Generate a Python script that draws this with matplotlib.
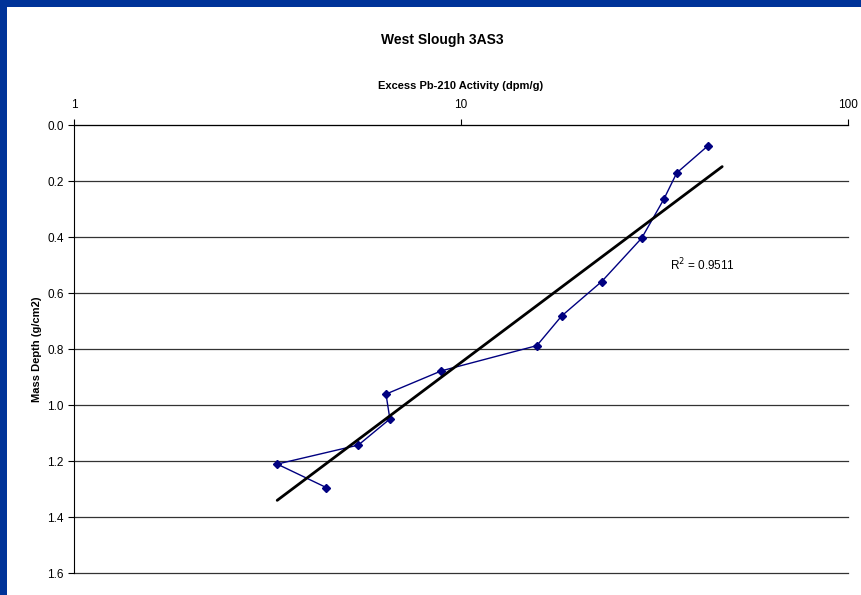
import numpy as np
import matplotlib
matplotlib.use("Agg")
import matplotlib.pyplot as plt
from matplotlib.patches import Rectangle

plt.rcParams["font.family"] = ["Liberation Sans", "DejaVu Sans"]

# Excess Pb-210 activity (dpm/g) and mass depth (g/cm2)
activity = [43.4, 36.1, 33.4, 29.3, 23.1, 18.2, 15.7, 8.9, 6.4, 6.55, 5.43, 3.35, 4.49]
depth = [0.075, 0.171, 0.266, 0.404, 0.559, 0.682, 0.788, 0.878, 0.961, 1.050, 1.143, 1.211, 1.295]
y_ticks = [0.0, 0.2, 0.4, 0.6, 0.8, 1.0, 1.2, 1.4, 1.6]
x_ticks = [1, 10, 100]
r2_label = "R$^2$ = 0.9511"

W, H = 862, 595
fig = plt.figure(figsize=(W / 100, H / 100), dpi=100)
fig.patch.set_facecolor("#003399")
# white chart area, leaving the blue band on top and left
fig.patches.append(Rectangle((7 / W, 0), 1 - 7 / W, 1 - 7 / H,
                             transform=fig.transFigure, facecolor="white",
                             edgecolor="none", zorder=-10))

ax = fig.add_axes([74 / W, 1 - 573 / H, (848 - 74) / W, (573 - 125) / H])
ax.set_facecolor("none")
ax.set_zorder(1)

# ── data series ───────────────────────────────────────
ax.plot(activity, depth, color="#000080", lw=1, marker="D", ms=4,
        markerfacecolor="#000080", markeredgecolor="#000080", zorder=3)

# ── logarithmic trendline (depth vs ln activity) ─────
lx = np.log10(activity)
slope, icept = np.polyfit(lx, depth, 1)
tx = np.array([min(activity), max(activity) * 1.09])
ax.plot(tx, slope * np.log10(tx) + icept, color="black", lw=2,
        solid_capstyle="round", zorder=4)
ax.text(34.6, 0.5, r2_label, fontsize=8.5, ha="left", va="center")

# ── axes ──────────────────────────────────────────────
ax.set_xscale("log")
ax.set_xlim(1, 100)
ax.set_ylim(1.6, 0.0)
ax.xaxis.tick_top()
ax.xaxis.set_label_position("top")
ax.set_xticks(x_ticks)
ax.set_xticklabels([str(t) for t in x_ticks])
ax.xaxis.set_minor_locator(matplotlib.ticker.NullLocator())
ax.set_yticks(y_ticks)
ax.set_yticklabels([f"{t:.1f}" for t in y_ticks])
ax.tick_params(axis="both", labelsize=8.5, direction="out", length=4,
               width=0.8, colors="black")
ax.tick_params(axis="x", pad=6)
ax.yaxis.grid(True, color="#333333", lw=0.9)
for gl in ax.get_ygridlines():
    gl.set_clip_on(False)
for s in ["right", "bottom"]:
    ax.spines[s].set_visible(False)
ax.spines["left"].set_linewidth(0.8)
ax.spines["top"].set_linewidth(0.8)

ax.set_xlabel("Excess Pb-210 Activity (dpm/g)", fontsize=8,
              fontweight="bold", labelpad=7)
ax.set_ylabel("Mass Depth (g/cm2)", fontsize=8, fontweight="bold",
              labelpad=4)
fig.text(442 / W, 1 - 40 / H, "West Slough 3AS3", fontsize=10,
         fontweight="bold", ha="center", va="center")

plt.savefig("out.png", dpi=100)
plt.close()
